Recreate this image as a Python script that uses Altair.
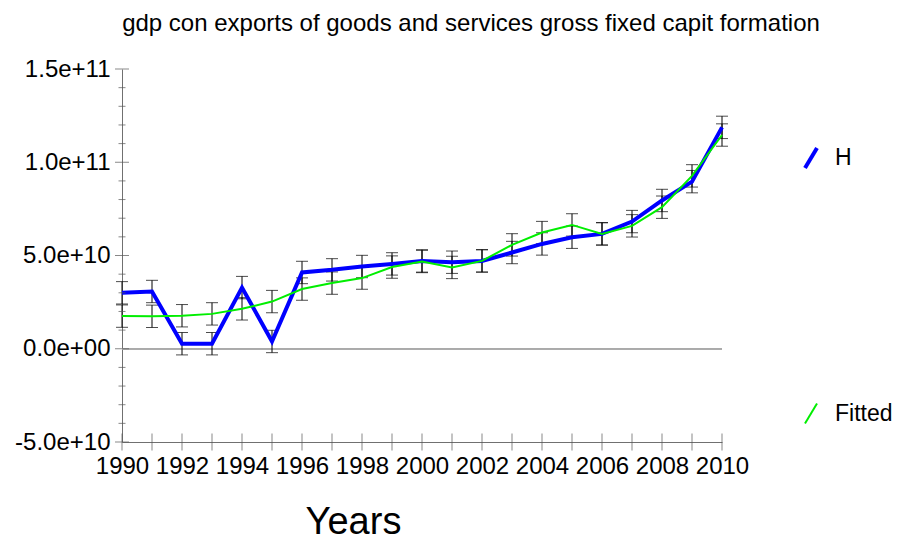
import altair as alt
import pandas as pd

years = list(range(1990, 2011))
h_values = [3.00e10, 3.07e10, 0.27e10, 0.27e10, 3.28e10, 0.39e10, 4.09e10, 4.23e10, 4.41e10, 4.55e10,
            4.71e10, 4.64e10, 4.71e10, 5.16e10, 5.62e10, 5.98e10, 6.16e10, 6.82e10, 7.95e10, 8.96e10, 11.87e10]
fitted_values = [1.75e10, 1.74e10, 1.77e10, 1.87e10, 2.14e10, 2.53e10, 3.20e10, 3.52e10, 3.79e10, 4.38e10,
                 4.68e10, 4.36e10, 4.71e10, 5.57e10, 6.23e10, 6.64e10, 6.16e10, 6.59e10, 7.59e10, 9.27e10, 11.46e10]
h_err = [6.0e9, 6.0e9, 6.0e9, 6.0e9, 6.0e9, 6.0e9, 6.0e9, 6.0e9, 6.0e9, 6.0e9,
         6.0e9, 6.0e9, 6.0e9, 6.0e9, 6.0e9, 6.0e9, 6.0e9, 6.0e9, 6.0e9, 6.0e9, 6.0e9]
fitted_err = [6.0e9, 6.0e9, 6.0e9, 6.0e9, 6.0e9, 6.0e9, 6.0e9, 6.0e9, 6.0e9, 6.0e9,
              6.0e9, 6.0e9, 6.0e9, 6.0e9, 6.0e9, 6.0e9, 6.0e9, 6.0e9, 6.0e9, 6.0e9, 6.0e9]
series_names = ["H", "Fitted"]
series_colors = ["#0000ff", "#00ee00"]
series_widths = [4, 2]

x_label_years = [1990, 1992, 1994, 1996, 1998, 2000, 2002, 2004, 2006, 2008, 2010]
x_tick_years = years
y_label_values = [-5e10, 0, 5e10, 1e11, 1.5e11]
y_label_texts = ["-5.0e+10", "0.0e+00", "5.0e+10", "1.0e+11", "1.5e+11"]
y_minor_ticks = [-4e10, -3e10, -2e10, -1e10, 1e10, 2e10, 3e10, 4e10, 6e10, 7e10, 8e10, 9e10,
                 1.1e11, 1.2e11, 1.3e11, 1.4e11]
y_major_ticks = y_label_values

title_text = "gdp con exports of goods and services gross fixed capit formation"
FONT = "Liberation Sans"

df = pd.DataFrame({
    "year": years * 2,
    "value": h_values + fitted_values,
    "err": h_err + fitted_err,
    "series": ["H"] * len(years) + ["Fitted"] * len(years),
})

y_expr = " : ".join(
    f"datum.value == {v} ? '{t}'" for v, t in zip(y_label_values, y_label_texts)
) + " : ''"

xscale = alt.Scale(domain=[1990, 2010], nice=False, zero=False)
yscale = alt.Scale(domain=[-5e10, 1.5e11], nice=False, zero=False)

x_axis = alt.Axis(values=x_label_years, format="d", ticks=False, grid=False,
                  labelFontSize=24, labelFont=FONT, labelColor="black", labelPadding=12,
                  domainColor="#707070", title="Years", titleFontSize=38, titleFont=FONT,
                  titleFontWeight="normal", titleColor="black", titleX=231, titleY=91,
                  titleBaseline="alphabetic", titleAlign="center", labelFlush=False, labelOverlap=False)
y_axis = alt.Axis(values=y_label_values, labelExpr=y_expr, ticks=False, grid=False,
                  labelFontSize=24, labelFont=FONT, labelColor="black", labelPadding=12,
                  domainColor="#707070", title=None, labelFlush=False, labelOverlap=False)

base = alt.Chart(df)

zero_rule = base.mark_rule(color="#aaaaaa", strokeWidth=1).encode(
    y=alt.datum(0, scale=yscale),
)

err_rule = base.transform_calculate(
    lo="datum.value - datum.err", hi="datum.value + datum.err"
).mark_rule(color="black", strokeWidth=1).encode(
    x=alt.X("year:Q", scale=xscale, axis=x_axis),
    y=alt.Y("lo:Q", scale=yscale, axis=y_axis),
    y2="hi:Q",
)
cap_lo = base.transform_calculate(lo="datum.value - datum.err").mark_tick(
    color="black", orient="horizontal", size=12, thickness=1).encode(
    x=alt.X("year:Q", scale=xscale), y=alt.Y("lo:Q", scale=yscale))
cap_hi = base.transform_calculate(hi="datum.value + datum.err").mark_tick(
    color="black", orient="horizontal", size=12, thickness=1).encode(
    x=alt.X("year:Q", scale=xscale), y=alt.Y("hi:Q", scale=yscale))

color_enc = alt.Color("series:N", scale=alt.Scale(domain=series_names, range=series_colors),
                      legend=alt.Legend(orient="none", legendX=677, legendY=77, title=None,
                                        symbolType="M-0.6,1L0.6,-1", symbolSize=400,
                                        symbolStrokeWidth=3, labelFontSize=23, labelFont=FONT,
                                        labelColor="black", rowPadding=223, labelOffset=12,
                                        padding=0, symbolFillColor="transparent"))
sw_enc = alt.StrokeWidth("series:N", scale=alt.Scale(domain=series_names, range=series_widths),
                         legend=None)

line_h = base.transform_filter("datum.series == 'H'").mark_line(strokeJoin="miter").encode(
    x=alt.X("year:Q", scale=xscale), y=alt.Y("value:Q", scale=yscale),
    color=color_enc, strokeWidth=sw_enc)
line_f = base.transform_filter("datum.series == 'Fitted'").mark_line().encode(
    x=alt.X("year:Q", scale=xscale), y=alt.Y("value:Q", scale=yscale),
    color=color_enc, strokeWidth=sw_enc)

xt_df = pd.DataFrame({"year": x_tick_years})
x_ticks = alt.Chart(xt_df).mark_tick(color="#555555", orient="vertical", size=17, thickness=1).encode(
    x=alt.X("year:Q", scale=xscale), y=alt.datum(-5e10, scale=yscale))

ymin_df = pd.DataFrame({"v": y_minor_ticks})
y_ticks_minor = alt.Chart(ymin_df).mark_tick(color="#555555", orient="horizontal", size=7, thickness=1).encode(
    y=alt.Y("v:Q", scale=yscale), x=alt.datum(1990, scale=xscale))
ymaj_df = pd.DataFrame({"v": y_major_ticks})
y_ticks_major = alt.Chart(ymaj_df).mark_tick(color="#555555", orient="horizontal", size=14, thickness=1).encode(
    y=alt.Y("v:Q", scale=yscale), x=alt.datum(1990, scale=xscale))

chart = alt.layer(
    zero_rule, err_rule, cap_lo, cap_hi, line_h, line_f, x_ticks, y_ticks_minor, y_ticks_major
).properties(
    width=600, height=373,
    title=alt.TitleParams(title_text, fontSize=24, font=FONT, fontWeight="normal", color="black",
                          anchor="middle", dx=49, offset=21),
    padding={"left": 114, "top": 61, "right": 170, "bottom": 98},
    autosize=alt.AutoSizeParams(type="none"),
).configure_view(stroke=None)

chart.save("out.html", embed_options={"renderer": "svg", "actions": False})
